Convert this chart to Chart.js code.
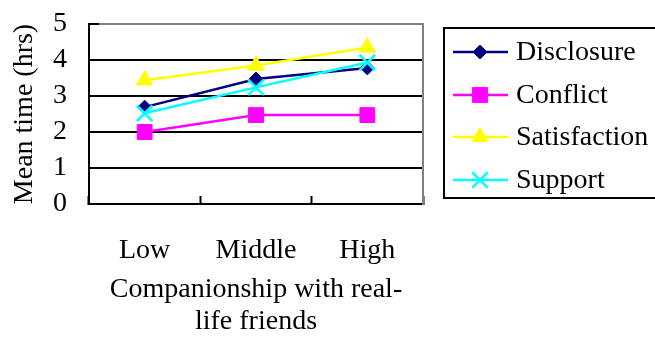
<!DOCTYPE html>
<html>
<head>
<meta charset="utf-8">
<script src="https://cdn.jsdelivr.net/npm/chart.js@4/dist/chart.umd.min.js"></script>
<style>
  html, body { margin: 0; padding: 0; background: #fff; }
  #c { display: block; }
</style>
</head>
<body>
<canvas id="c" width="655" height="349"></canvas>
<script>
// Mean time spent by level of companionship with real-life friends
const categories = ['Low', 'Middle', 'High'];
const disclosure = [2.69, 3.47, 3.78];
const conflict = [2.0, 2.47, 2.47];
const satisfaction = [3.44, 3.85, 4.35];
const support = [2.52, 3.24, 3.93];
const seriesNames = ['Disclosure', 'Conflict', 'Satisfaction', 'Support'];
const yTicks = [0, 1, 2, 3, 4, 5];
const xTitle = ['Companionship with real-', 'life friends'];
const yTitle = 'Mean time (hrs)';

const FONT = "'Liberation Serif', 'Times New Roman', serif";
const FS = 28;

const styles = [
  { color: '#000080', pointStyle: 'rectRot', radius: 7, borderWidth: 1 },
  { color: '#FF00FF', pointStyle: 'rect', radius: 10.5, borderWidth: 1 },
  { color: '#FFFF00', pointStyle: 'triangle', radius: 9.5, borderWidth: 1 },
  { color: '#00FFFF', pointStyle: 'crossRot', radius: 11, borderWidth: 2.5 }
];
const values = [disclosure, conflict, satisfaction, support];

const datasets = values.map((v, i) => ({
  label: seriesNames[i],
  data: v,
  borderColor: styles[i].color,
  backgroundColor: styles[i].color,
  borderWidth: 2.5,
  tension: 0,
  pointStyle: styles[i].pointStyle,
  pointRadius: styles[i].radius,
  pointHoverRadius: styles[i].radius,
  pointBorderWidth: styles[i].borderWidth,
  pointBackgroundColor: styles[i].color,
  pointBorderColor: styles[i].color,
  order: 3 - i
}));

// Keep the plot box fixed: no extra room for half-height edge labels
const noPad = s => { s.paddingTop = 0; s.paddingBottom = 0; s.paddingLeft = 0; s.paddingRight = 0; };

// Boxed legend with a line and marker sample for each series
const boxLegend = {
  id: 'boxLegend',
  afterDraw(chart) {
    const ctx = chart.ctx;
    const bx = 444, by = 28, bw = 240, bh = 170;
    ctx.save();
    ctx.lineWidth = 2;
    ctx.strokeStyle = '#000';
    ctx.strokeRect(bx, by, bw, bh);
    const rowY = [52, 95, 137, 180];
    chart.data.datasets.forEach((ds, i) => {
      const y = rowY[i];
      ctx.strokeStyle = ds.borderColor;
      ctx.lineWidth = ds.borderWidth;
      ctx.beginPath();
      ctx.moveTo(453, y);
      ctx.lineTo(508, y);
      ctx.stroke();
      ctx.fillStyle = ds.pointBackgroundColor;
      ctx.strokeStyle = ds.pointBorderColor;
      ctx.lineWidth = ds.pointBorderWidth;
      Chart.helpers.drawPoint(ctx, { pointStyle: ds.pointStyle, radius: ds.pointRadius, rotation: 0, borderWidth: ds.pointBorderWidth }, 480, y);
      ctx.fillStyle = '#000';
      ctx.font = FS + 'px ' + FONT;
      ctx.textAlign = 'left';
      ctx.textBaseline = 'middle';
      ctx.fillText(ds.label, 516, y + 1);
    });
    ctx.restore();
  }
};

new Chart(document.getElementById('c'), {
  type: 'line',
  data: { labels: categories, datasets },
  options: {
    responsive: false,
    animation: false,
    devicePixelRatio: 1,
    layout: { padding: { left: 0, top: 24, right: 232, bottom: 0 } },
    plugins: { legend: { display: false }, tooltip: { enabled: false } },
    scales: {
      x: {
        offset: true,
        afterFit: s => { s.height = 145; noPad(s); },
        grid: {
          offset: true,
          drawOnChartArea: false,
          drawTicks: true,
          tickLength: -8,
          tickWidth: 2,
          tickColor: '#000'
        },
        border: { display: true, color: '#000', width: 2 },
        ticks: { color: '#000', font: { family: FONT, size: FS }, padding: 38, maxRotation: 0, autoSkip: false },
        title: {
          display: true,
          text: xTitle,
          color: '#000',
          font: { family: FONT, size: FS, lineHeight: 1.15 },
          padding: { top: 0, bottom: 11 }
        }
      },
      y: {
        min: 0,
        max: 5,
        afterFit: s => { s.width = 89; noPad(s); },
        afterBuildTicks: s => { s.ticks = yTicks.map(v => ({ value: v })); },
        grid: {
          drawTicks: true,
          tickLength: -10,
          tickWidth: 2,
          tickColor: '#000',
          lineWidth: 2,
          color: c => (c.tick && c.tick.value === 5 ? '#808080' : '#000')
        },
        border: { display: true, color: '#000', width: 2 },
        ticks: { color: '#000', font: { family: FONT, size: FS }, padding: 32, autoSkip: false },
        title: {
          display: true,
          text: yTitle,
          color: '#000',
          font: { family: FONT, size: FS, lineHeight: 1.15 },
          padding: { top: 9, bottom: 0 }
        }
      },
      yRight: {
        position: 'right',
        min: 0,
        max: 5,
        afterFit: s => { s.width = 0; noPad(s); },
        grid: { display: false },
        ticks: { display: false },
        border: { display: true, color: '#808080', width: 2 }
      }
    }
  },
  plugins: [boxLegend]
});
</script>
</body>
</html>
